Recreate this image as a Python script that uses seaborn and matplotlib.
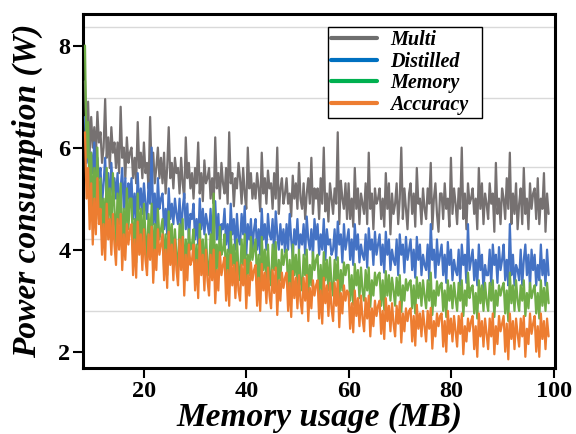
import numpy as np
import pandas as pd
import matplotlib
matplotlib.use("Agg")
import matplotlib.pyplot as plt
from matplotlib.lines import Line2D
from matplotlib.ticker import FixedLocator
import seaborn as sns

# ---------------- data ----------------
series_names = ["Multi", "Distilled", "Memory", "Accuracy"]
x_start, x_end = 8.5, 99.0   # memory usage range (MB) covered by the samples

multi = [
    7.3, 6.2, 6.9, 5.9, 6.6, 6.0, 6.4, 5.8, 6.7, 6.1,
    6.3, 5.7, 6.0, 6.95, 5.8, 6.2, 5.6, 6.4, 5.9, 6.1,
    5.6, 6.1, 5.5, 6.8, 5.8, 6.0, 5.4, 6.2, 5.7, 5.9,
    6.0, 5.4, 5.8, 5.3, 6.5, 5.6, 5.9, 5.4, 6.1, 5.5,
    5.7, 5.2, 6.6, 5.5, 5.9, 5.3, 5.6, 6.0, 5.4, 5.8,
    5.3, 5.9, 5.1, 5.6, 6.4, 5.4, 5.7, 5.2, 5.8, 5.5,
    5.6, 5.1, 5.8, 5.3, 5.0, 6.2, 5.4, 5.7, 5.2, 5.5,
    5.0, 5.6, 5.3, 6.1, 5.1, 5.5, 4.95, 5.75, 5.3, 5.4,
    5.6, 5.0, 5.4, 4.9, 6.2, 5.2, 5.5, 5.0, 5.7, 5.3,
    5.1, 5.6, 4.9, 6.3, 5.3, 5.5, 4.85, 5.4, 5.2, 5.7,
    5.4, 4.9, 5.6, 5.1, 4.8, 6.0, 5.2, 5.5, 5.0, 5.3,
    5.0, 5.5, 5.2, 4.75, 5.9, 5.1, 5.4, 4.9, 5.55, 5.2,
    5.3, 4.8, 5.5, 5.0, 6.0, 4.7, 5.2, 5.4, 4.9, 5.1,
    5.4, 4.9, 5.1, 4.65, 5.45, 5.0, 5.3, 4.8, 5.7, 5.0,
    4.8, 5.3, 4.6, 5.1, 5.4, 4.9, 5.8, 4.7, 5.2, 5.0,
    5.2, 4.6, 5.4, 4.9, 6.0, 4.75, 5.1, 4.55, 5.3, 5.0,
    4.7, 5.2, 4.9, 6.3, 4.5, 5.35, 5.0, 4.8, 5.3, 4.6,
    5.3, 4.6, 5.0, 4.45, 5.6, 4.8, 5.2, 4.5, 5.1, 4.9,
    4.7, 5.3, 4.5, 5.9, 4.8, 5.1, 4.4, 5.2, 4.9, 5.0,
    5.2, 4.6, 5.0, 4.45, 5.5, 4.8, 5.3, 4.3, 5.1, 4.7,
    4.9, 5.3, 4.5, 5.0, 6.0, 4.6, 5.2, 4.8, 4.4, 5.1,
    5.3, 4.7, 5.1, 4.45, 5.6, 4.9, 5.0, 4.5, 5.2, 4.8,
    4.6, 5.2, 4.9, 5.7, 4.4, 5.0, 5.3, 4.7, 4.35, 5.1,
    5.1, 4.6, 5.3, 4.8, 5.0, 4.45, 5.8, 4.7, 5.2, 4.9,
    4.5, 5.2, 4.8, 6.0, 4.6, 5.1, 4.4, 5.3, 4.9, 5.0,
    5.2, 4.7, 5.0, 4.4, 5.6, 4.8, 5.3, 4.5, 5.1, 4.9,
    4.6, 5.3, 4.9, 5.1, 4.35, 5.7, 4.7, 5.0, 4.5, 5.2,
    5.0, 4.6, 5.4, 4.8, 5.9, 4.5, 5.1, 4.7, 5.3, 4.4,
    4.9, 5.2, 4.5, 5.6, 4.7, 5.0, 4.4, 5.3, 4.8, 5.1,
    5.2, 4.6, 5.4, 4.5, 5.0, 4.8, 5.5, 4.35, 5.1, 4.7,
]

distilled = [
    6.6, 5.7, 6.2, 5.3, 5.9, 5.5, 6.1, 5.2, 5.8, 5.4,
    5.6, 4.9, 5.3, 5.8, 5.0, 5.5, 4.8, 5.7, 5.1, 5.4,
    5.0, 5.5, 4.7, 5.2, 5.6, 4.8, 5.4, 4.6, 5.3, 5.0,
    5.4, 4.6, 5.1, 4.5, 5.5, 4.8, 5.2, 4.7, 5.3, 4.9,
    4.6, 5.3, 4.9, 6.0, 4.5, 5.1, 4.4, 5.4, 4.8, 5.0,
    5.1, 4.4, 4.8, 4.3, 5.2, 4.6, 4.9, 4.5, 5.0, 4.7,
    4.5, 5.0, 4.3, 4.8, 5.1, 4.4, 4.9, 4.2, 4.7, 4.6,
    4.9, 4.2, 4.6, 4.1, 5.0, 4.4, 4.8, 4.3, 4.7, 4.5,
    4.3, 4.8, 4.1, 4.6, 4.95, 4.2, 4.7, 4.0, 4.5, 4.4,
    4.8, 4.1, 4.5, 3.95, 4.9, 4.3, 4.6, 4.0, 4.7, 4.2,
    4.1, 4.7, 4.3, 4.85, 3.9, 4.5, 4.2, 4.6, 4.0, 4.4,
    4.6, 4.0, 4.4, 3.9, 4.8, 4.2, 4.5, 4.0, 4.7, 4.3,
    4.2, 4.6, 3.9, 4.75, 4.3, 4.0, 4.5, 4.1, 4.4, 3.95,
    4.5, 4.0, 4.7, 4.2, 3.85, 4.4, 4.1, 4.6, 4.0, 4.3,
    4.1, 4.5, 3.9, 4.65, 4.2, 4.0, 4.4, 3.85, 4.6, 4.2,
    4.5, 3.9, 4.3, 4.0, 4.6, 3.8, 4.4, 4.1, 4.2, 3.9,
    4.0, 4.4, 3.8, 4.55, 4.1, 4.3, 3.75, 4.5, 4.0, 4.2,
    4.4, 3.8, 4.2, 3.7, 4.5, 4.0, 4.3, 3.75, 4.1, 3.9,
    3.8, 4.3, 3.65, 4.42, 4.0, 4.2, 3.7, 4.35, 3.9, 4.1,
    4.3, 3.7, 4.1, 3.55, 4.35, 3.9, 4.2, 3.6, 4.0, 3.8,
    3.7, 4.2, 3.5, 4.3, 3.9, 4.1, 3.55, 4.25, 3.8, 4.0,
    4.2, 3.6, 4.0, 3.45, 4.25, 3.8, 4.1, 3.5, 3.9, 3.7,
    3.6, 4.1, 3.4, 4.5, 3.8, 4.0, 3.45, 4.2, 3.7, 3.9,
    4.1, 3.5, 3.9, 3.35, 4.15, 3.7, 4.0, 3.4, 3.8, 3.6,
    3.5, 4.0, 3.3, 4.1, 3.7, 3.9, 3.35, 4.5, 3.6, 3.8,
    4.0, 3.4, 3.8, 3.3, 4.1, 3.6, 3.9, 3.2, 3.7, 3.5,
    3.5, 4.0, 3.3, 4.1, 3.7, 3.9, 3.35, 4.05, 3.6, 3.8,
    4.1, 3.4, 3.8, 3.3, 4.5, 3.5, 3.9, 3.3, 3.7, 3.6,
    3.4, 4.0, 3.3, 3.8, 4.1, 3.5, 3.9, 3.25, 4.0, 3.6,
    3.9, 3.3, 3.7, 3.4, 4.1, 3.5, 3.8, 3.3, 4.0, 3.5,
]

memory = [
    8.0, 5.8, 6.5, 5.0, 5.9, 4.7, 5.6, 4.9, 6.0, 4.6,
    5.4, 4.4, 5.0, 4.2, 5.6, 4.6, 5.2, 4.3, 5.5, 4.8,
    4.1, 5.1, 4.5, 5.3, 3.9, 4.8, 4.2, 5.2, 4.4, 5.0,
    5.0, 3.9, 4.6, 3.75, 5.1, 4.2, 4.8, 3.9, 4.9, 4.3,
    3.8, 4.7, 4.1, 4.9, 3.6, 4.5, 3.9, 4.8, 4.2, 4.4,
    4.6, 3.6, 4.3, 3.5, 4.75, 4.0, 4.5, 3.7, 4.4, 3.9,
    3.6, 4.5, 3.9, 4.6, 3.4, 4.2, 3.7, 4.4, 4.0, 4.1,
    4.4, 3.5, 4.1, 3.35, 4.5, 3.8, 4.2, 3.5, 4.3, 3.7,
    3.5, 4.3, 3.8, 5.1, 3.3, 4.1, 3.6, 4.45, 3.9, 4.0,
    4.3, 3.4, 4.0, 3.28, 4.35, 3.7, 4.1, 3.4, 4.2, 3.6,
    3.4, 4.2, 3.7, 4.3, 3.25, 3.9, 3.5, 4.25, 3.8, 4.0,
    4.2, 3.3, 3.9, 3.2, 4.25, 3.6, 4.0, 3.35, 4.1, 3.5,
    3.3, 4.1, 3.6, 4.15, 3.15, 3.8, 3.4, 4.0, 3.7, 3.9,
    4.0, 3.2, 3.8, 3.12, 4.1, 3.5, 3.9, 3.3, 4.0, 3.4,
    3.2, 3.9, 3.5, 4.0, 3.1, 3.7, 3.3, 3.95, 3.6, 3.8,
    3.9, 3.1, 3.7, 3.05, 3.95, 3.4, 3.8, 3.2, 3.85, 3.3,
    3.1, 3.8, 3.4, 3.85, 3.0, 3.6, 3.2, 3.75, 3.5, 3.7,
    3.7, 3.0, 3.5, 2.92, 3.72, 3.3, 3.6, 3.05, 3.65, 3.2,
    3.0, 3.6, 3.2, 3.65, 2.88, 3.4, 3.1, 3.55, 3.3, 3.5,
    3.55, 2.9, 3.4, 2.82, 3.58, 3.1, 3.5, 3.0, 3.45, 3.2,
    2.9, 3.45, 3.1, 3.5, 2.78, 3.3, 3.0, 3.42, 3.2, 3.35,
    3.4, 2.85, 3.3, 2.75, 3.46, 3.05, 3.35, 2.9, 3.4, 3.1,
    2.85, 3.4, 3.0, 3.55, 2.72, 3.2, 2.9, 3.38, 3.1, 3.3,
    3.35, 2.8, 3.2, 2.68, 3.4, 3.0, 3.3, 2.85, 3.35, 3.05,
    2.8, 3.35, 3.0, 3.4, 2.7, 3.2, 2.9, 3.55, 3.05, 3.25,
    3.3, 2.75, 3.15, 2.65, 3.4, 2.95, 3.3, 2.8, 3.35, 3.0,
    2.8, 3.35, 3.0, 3.4, 2.68, 3.2, 2.9, 3.3, 3.1, 3.25,
    3.35, 2.75, 3.2, 2.6, 3.55, 2.95, 3.3, 2.8, 3.4, 3.0,
    2.8, 3.3, 3.0, 3.4, 2.7, 3.15, 2.85, 3.35, 3.05, 3.2,
    3.3, 2.75, 3.15, 2.65, 3.4, 2.9, 3.25, 2.8, 3.35, 2.95,
]

accuracy = [
    6.3, 5.0, 5.6, 4.4, 5.3, 4.1, 5.0, 4.3, 5.4, 4.5,
    4.8, 3.9, 4.5, 3.8, 4.9, 4.2, 4.6, 3.9, 4.7, 4.1,
    3.7, 4.6, 4.0, 4.7, 3.6, 4.3, 3.8, 4.5, 4.1, 4.4,
    4.5, 3.5, 4.2, 3.45, 4.55, 3.9, 4.3, 3.6, 4.4, 3.8,
    3.5, 4.3, 3.8, 4.45, 3.35, 4.0, 3.6, 4.4, 3.9, 4.1,
    4.3, 3.4, 4.0, 3.25, 4.35, 3.7, 4.1, 3.4, 4.2, 3.6,
    3.3, 4.2, 3.6, 4.25, 3.1, 3.9, 3.4, 4.1, 3.7, 3.8,
    4.1, 3.2, 3.8, 3.05, 4.2, 3.5, 3.9, 3.2, 4.0, 3.4,
    3.1, 3.9, 3.4, 4.0, 2.95, 3.6, 3.2, 3.95, 3.5, 3.7,
    3.85, 3.0, 3.6, 2.9, 3.9, 3.3, 3.7, 3.05, 3.75, 3.2,
    3.0, 3.7, 3.3, 3.8, 2.85, 3.5, 3.1, 3.75, 3.4, 3.6,
    3.7, 2.9, 3.45, 2.8, 3.72, 3.2, 3.55, 2.95, 3.65, 3.1,
    2.85, 3.6, 3.15, 3.65, 2.72, 3.4, 3.0, 3.55, 3.25, 3.45,
    3.55, 2.8, 3.35, 2.68, 3.58, 3.05, 3.45, 2.85, 3.5, 3.0,
    2.75, 3.45, 3.0, 3.5, 2.6, 3.25, 2.85, 3.4, 3.1, 3.3,
    3.4, 2.65, 3.2, 2.55, 3.45, 2.95, 3.3, 2.7, 3.35, 2.85,
    2.6, 3.35, 2.9, 3.4, 2.48, 3.15, 2.75, 3.3, 3.0, 3.2,
    3.15, 2.45, 2.95, 2.38, 3.2, 2.7, 3.05, 2.5, 3.1, 2.65,
    2.4, 3.05, 2.65, 3.1, 2.3, 2.85, 2.5, 3.0, 2.7, 2.9,
    3.0, 2.35, 2.8, 2.25, 3.05, 2.6, 2.9, 2.4, 2.95, 2.55,
    2.3, 2.9, 2.55, 2.98, 2.18, 2.75, 2.4, 2.85, 2.6, 2.8,
    2.85, 2.2, 2.7, 2.12, 2.92, 2.45, 2.75, 2.3, 2.8, 2.5,
    2.2, 2.8, 2.45, 2.86, 2.06, 2.6, 2.3, 2.75, 2.5, 2.7,
    2.75, 2.1, 2.6, 2.0, 2.8, 2.35, 2.65, 2.2, 2.7, 2.4,
    2.1, 2.7, 2.35, 2.75, 1.95, 2.5, 2.2, 2.65, 2.4, 2.6,
    2.7, 2.05, 2.5, 1.9, 2.75, 2.3, 2.6, 2.1, 2.65, 2.35,
    2.05, 2.65, 2.3, 2.75, 1.95, 2.5, 2.15, 2.7, 2.4, 2.55,
    2.7, 2.0, 2.55, 1.85, 2.75, 2.25, 2.6, 2.05, 2.65, 2.35,
    2.1, 2.65, 2.3, 2.7, 1.9, 2.45, 2.15, 2.75, 2.35, 2.55,
    2.7, 2.0, 2.5, 1.9, 2.75, 2.25, 2.6, 2.05, 2.65, 2.3,
]

x_ticks = [20, 40, 60, 80, 100]
y_ticks = [2, 4, 6, 8]
grid_levels = [2.80, 4.20, 5.61, 6.98, 8.37]

line_colors = ["#767171", "#4472c4", "#70ad47", "#ed7d31"]
legend_colors = ["#6e6e6e", "#0070c0", "#00b050", "#ed7d31"]

# ---------------- build long table ----------------
values = [multi, distilled, memory, accuracy]
frames = []
for name, vals in zip(series_names, values):
    xs = np.linspace(x_start, x_end, len(vals))
    frames.append(pd.DataFrame({"mem": xs, "power": vals, "model": name}))
df = pd.concat(frames, ignore_index=True)

# ---------------- plot ----------------
sns.set_theme(style="white")
plt.rcParams["font.family"] = ["Liberation Serif", "DejaVu Serif"]
plt.rcParams["text.color"] = "black"
plt.rcParams["axes.labelcolor"] = "black"
plt.rcParams["xtick.color"] = "black"
plt.rcParams["ytick.color"] = "black"

fig = plt.figure(figsize=(5.76, 4.34), dpi=100)
ax = fig.add_axes([0.144, 0.152, 0.820, 0.816])

sns.lineplot(data=df, x="mem", y="power", hue="model", hue_order=series_names,
             palette=line_colors, estimator=None, sort=False, linewidth=1.6,
             legend=False, ax=ax, zorder=3)

ax.set_xlim(8.1, 100.3)
ax.set_ylim(1.68, 8.62)
ax.set_xticks(x_ticks)
ax.set_yticks(y_ticks)
ax.yaxis.set_minor_locator(FixedLocator(grid_levels))
ax.grid(False)
ax.grid(which="minor", axis="y", color="#d9d9d9", linewidth=1.0, zorder=0)
ax.set_axisbelow(True)
ax.tick_params(axis="y", which="minor", length=0)

for lab in ax.get_xticklabels() + ax.get_yticklabels():
    lab.set_fontweight("bold")
    lab.set_fontsize(17.5)
    lab.set_color("black")
ax.tick_params(axis="both", which="major", direction="out", length=7, width=1.5,
               color="black", pad=2, bottom=True, left=True)

for sp in ax.spines.values():
    sp.set_visible(True)
    sp.set_color("black")
    sp.set_linewidth(2.2)

ax.set_xlabel("Memory usage (MB)", fontsize=24, fontweight="bold", style="italic",
              labelpad=0, color="black")
ax.set_ylabel("Power consumption (W)", fontsize=24, fontweight="bold", style="italic",
              labelpad=11, color="black")

handles = [Line2D([0], [0], color=c, lw=3) for c in legend_colors]
leg = ax.legend(handles, series_names, loc="upper left",
                bbox_to_anchor=(0.519, 0.713, 0.326, 0.25), mode="expand",
                borderaxespad=0,
                frameon=True, fancybox=False, edgecolor="black", framealpha=1,
                handlelength=2.3, handletextpad=0.65, labelspacing=0.08,
                borderpad=0.15,
                prop={"weight": "bold", "style": "italic", "size": 14.5})
leg.get_frame().set_linewidth(1.0)
leg.set_zorder(10)

fig.savefig("out.png", dpi=100)
